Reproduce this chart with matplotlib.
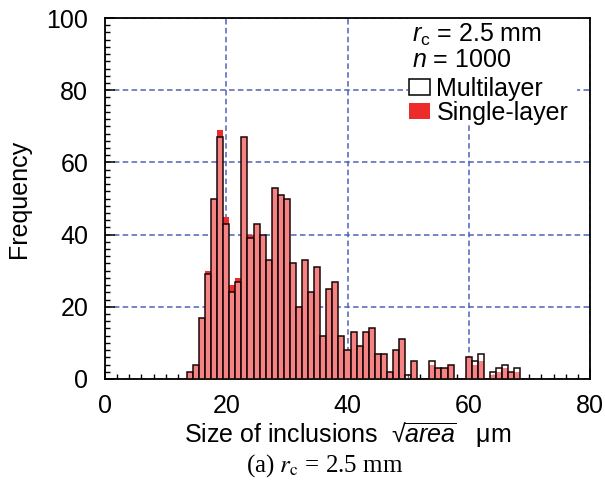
import matplotlib
matplotlib.use('Agg')
import matplotlib.pyplot as plt
from matplotlib.patches import Patch, Rectangle
from matplotlib.ticker import MultipleLocator

# histogram counts, 1 um bins centred on the sizes below
sizes = list(range(14, 69))
multi = [2, 4, 17, 29, 50, 67, 43, 24, 27, 67, 39, 43, 40, 33, 53, 51, 50, 32, 20, 33,
         24, 31, 12, 25, 27, 12, 8, 13, 9, 13, 14, 7, 7, 2, 8, 11, 1, 5, 0, 0,
         5, 3, 3, 4, 0, 0, 6, 5, 7, 0, 2, 3, 4, 2, 3]
single = [2, 4, 17, 30, 50, 69, 45, 26, 28, 67, 40, 43, 40, 33, 53, 51, 50, 32, 20, 33,
          24, 31, 12, 25, 27, 12, 8, 13, 9, 13, 14, 7, 7, 2, 8, 11, 0, 5, 0, 0,
          4, 3, 3, 4, 0, 0, 6, 4, 5, 0, 1, 2, 3, 2, 2]
xticks = [0, 20, 40, 60, 80]
yticks = [0, 20, 40, 60, 80, 100]

RED = '#ee2b2b'

plt.rcParams['font.family'] = ['Liberation Sans', 'DejaVu Sans']
plt.rcParams['font.size'] = 18
plt.rcParams['mathtext.fontset'] = 'custom'
plt.rcParams['mathtext.rm'] = 'Liberation Sans'
plt.rcParams['mathtext.it'] = 'Liberation Sans:italic'

fig = plt.figure(figsize=(6.05, 4.88), dpi=100)
ax = fig.add_axes([0.1736, 0.2234, 0.8016, 0.7396])

ax.bar(sizes, single, width=1.0, color=RED, linewidth=0, zorder=2)
ax.bar(sizes, multi, width=1.0, facecolor=(1, 1, 1, 0.42), edgecolor='#1a0505',
       linewidth=1.1, zorder=3)

ax.set_xlim(0, 80)
ax.set_ylim(0, 100)
ax.set_xticks(xticks)
ax.set_yticks(yticks)
ax.xaxis.set_minor_locator(MultipleLocator(2))
ax.yaxis.set_minor_locator(MultipleLocator(2))
ax.tick_params(which='major', direction='in', length=7, width=1.1)
ax.tick_params(which='minor', direction='in', length=3.5, width=1.0)
ax.tick_params(axis='x', which='major', pad=11)
ax.tick_params(axis='y', which='major', pad=12)
for s in ax.spines.values():
    s.set_linewidth(1.3)

ax.set_axisbelow(True)
ax.grid(True, which='major', color='#4f62b8', linestyle=(0, (3.6, 2.2)), linewidth=1.1)

ax.set_xlabel(r'Size of inclusions  √$\overline{area}$   μm')
ax.xaxis.set_label_coords(0.5, -0.117)
ax.set_ylabel('Frequency')
ax.yaxis.set_label_coords(-0.153, 0.5)

# white panel behind the annotation and legend
ax.add_patch(Rectangle((0.625, 0.704), 0.348, 0.296, transform=ax.transAxes,
                       facecolor='white', edgecolor='none', zorder=1.5))
ax.text(0.633, 0.934, r'$r_{\mathrm{c}}$ = 2.5 mm', transform=ax.transAxes,
        ha='left', va='baseline', zorder=4)
ax.text(0.633, 0.865, r'$n$ = 1000', transform=ax.transAxes,
        ha='left', va='baseline', zorder=4)

handles = [Patch(facecolor='white', edgecolor='black', linewidth=1.1),
           Patch(facecolor=RED, edgecolor='none')]
ax.legend(handles, ['Multilayer', 'Single-layer'], loc='upper left',
          bbox_to_anchor=(0.627, 0.837), frameon=False, borderpad=0,
          borderaxespad=0, handlelength=0.84, handleheight=0.56,
          handletextpad=0.25, labelspacing=0.0)

fig.text(0.537, 0.045, r'(a) $r_{\mathrm{c}}$ = 2.5 mm', ha='center', va='center',
         family='Liberation Serif', fontsize=18, math_fontfamily='stix')

fig.savefig('out.png', dpi=100)
